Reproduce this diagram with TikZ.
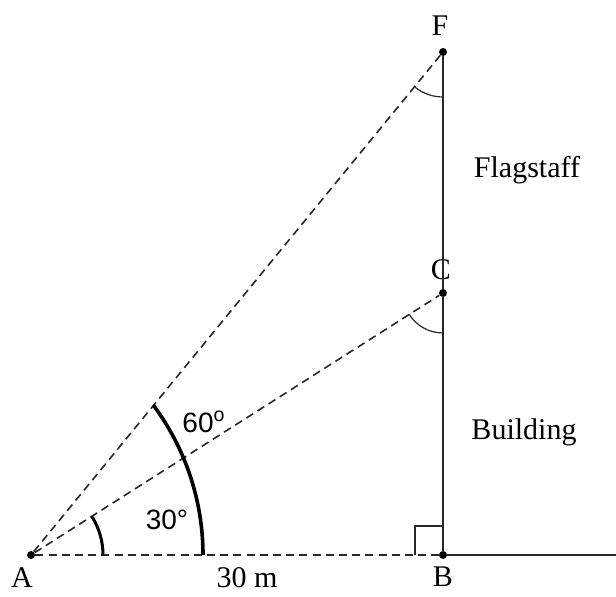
\documentclass[tikz,border=0pt]{standalone}
\usepackage{fontspec}
\setmainfont{Liberation Serif}
\setsansfont{Liberation Sans}
\usepackage{tikz}
\usetikzlibrary{positioning, calc}
\usepackage{xcolor}
\definecolor{linecolor}{RGB}{40,40,40}

\begin{document}
\begin{tikzpicture}[
    x=0.5pt, y=0.5pt,
    dot/.style={circle, fill=black, inner sep=0pt, minimum size=4pt},
    ptlabel/.style={font=\fontsize{15}{18}\selectfont, inner sep=0pt},
    anglelabel/.style={font=\sffamily\fontsize{14}{17}\selectfont, inner sep=0pt},
    solidline/.style={draw=linecolor, line width=1pt},
    dashline/.style={draw=linecolor, line width=0.8pt, dash pattern=on 4pt off 2.6pt},
    bigarc/.style={draw=black, line width=1.8pt},
    smallarc/.style={draw=black, line width=1.5pt},
    thinarc/.style={draw=linecolor, line width=0.6pt}
]
\useasboundingbox (0,0) rectangle (616,597);

% Points
\node[dot] (A) at (31,42)  {};
\node[dot] (B) at (443,42) {};
\node[dot] (C) at (443,304) {};
\node[dot] (F) at (443,545) {};
\coordinate (ground) at (616,42);

% Lettres
\node[ptlabel] (labA) at (22,19)   {A};
\node[ptlabel] (labB) at (443,20)  {B};
\node[ptlabel] (labC) at (441,327) {C};
\node[ptlabel] (labF) at (440,571) {F};

% Textes
\node[ptlabel, anchor=base] (dist) at (247,9) {30 m};
\node[ptlabel] (flag)  at (527,427) {Flagstaff};
\node[ptlabel] (build) at (524,165) {Building};
\node[anglelabel] (a60) at (204,175) {60\textsuperscript{o}};
\node[anglelabel] (a30) at (167,77)  {30°};

% Traits pleins
\draw[solidline] (B) -- (ground);
\draw[solidline] (B) -- (C);
\draw[solidline] (C) -- (F);

% Lignes de visée
\draw[dashline] (A) -- (B);
\draw[dashline] (A) -- (C);
\draw[dashline] (A) -- (F);

% Angle droit
\draw[solidline, line width=0.7pt] ([xshift=-28*0.5pt]B.center) |- ([yshift=29*0.5pt]B.center);

% Angles
\draw[smallarc] ([shift={(0:72)}]A.center) arc[start angle=0, end angle=32.5, radius=72];
\draw[bigarc] (203,42) arc[start angle=0, end angle=36.6, radius=251];
\draw[thinarc] ([shift={(230.7:45)}]F.center) arc[start angle=230.7, end angle=270, radius=45];
\draw[thinarc] ([shift={(212.5:40)}]C.center) arc[start angle=212.5, end angle=270, radius=40];

\end{tikzpicture}
\end{document}
